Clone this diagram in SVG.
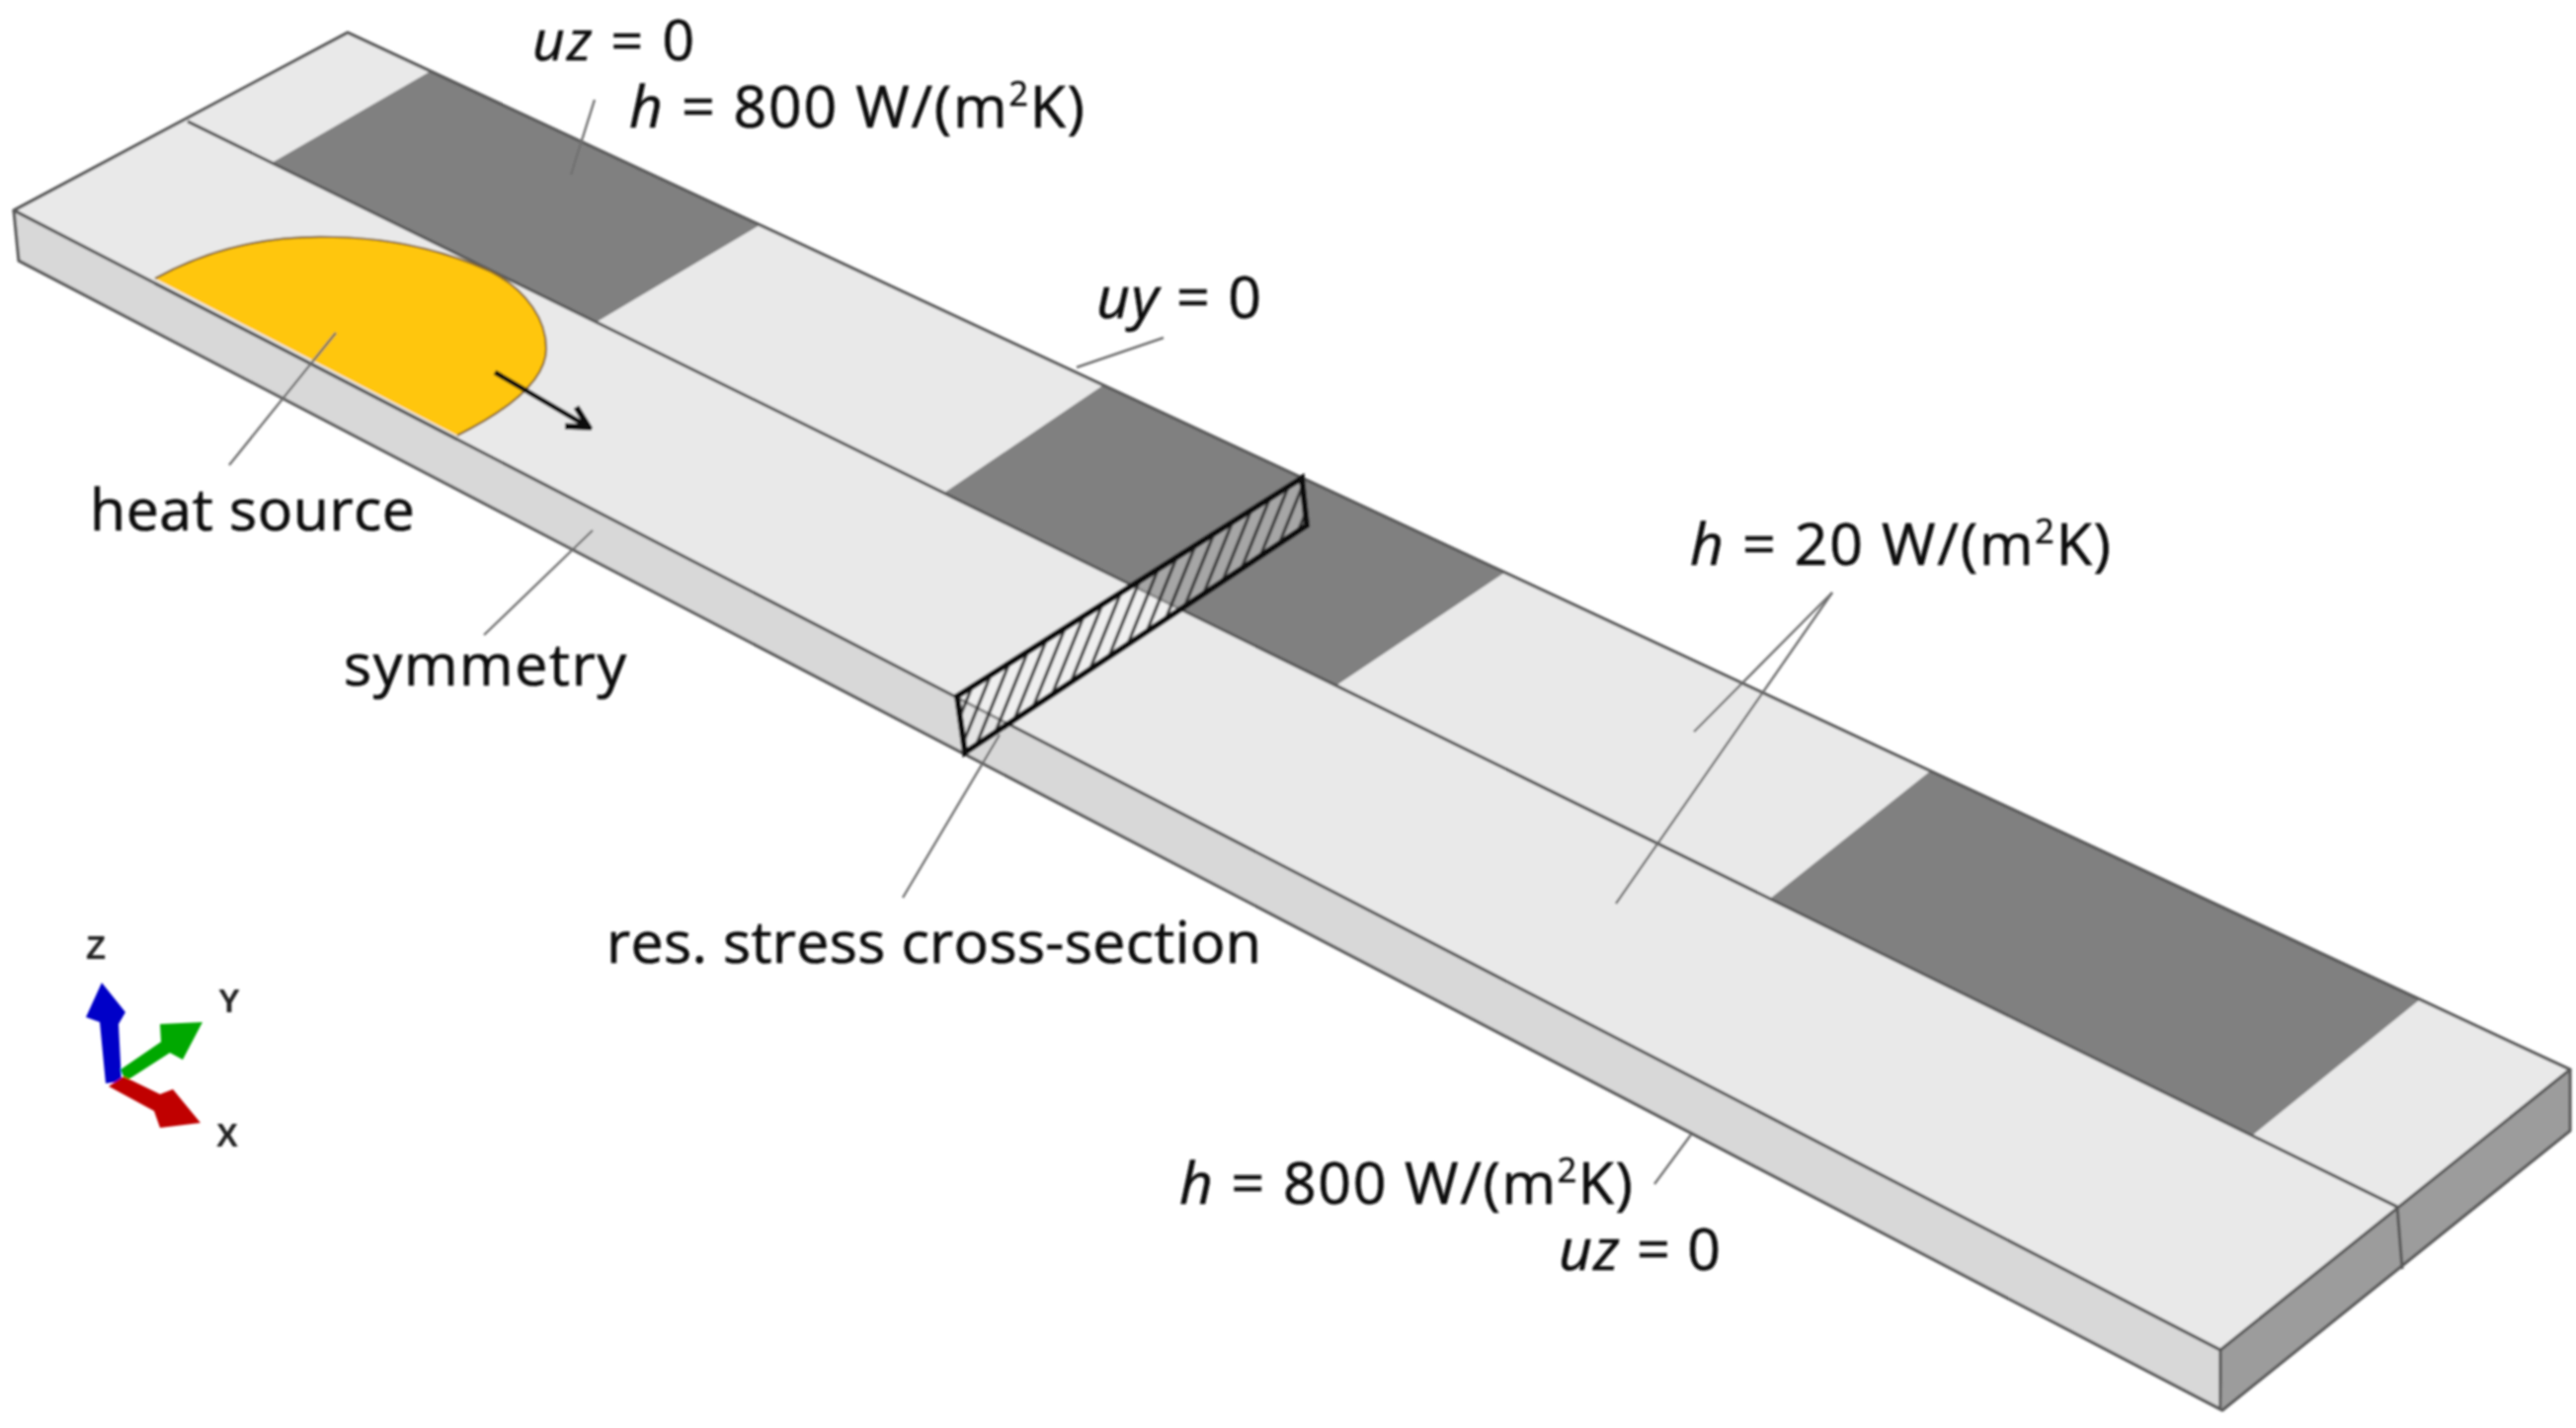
<svg xmlns="http://www.w3.org/2000/svg" width="2608" height="1446" viewBox="0 0 2608 1446">
<style>
text{font-family:"Open Sans","Noto Sans","Liberation Sans",sans-serif;font-size:59px;fill:#111;stroke:#111;stroke-width:.7}
.i{font-style:italic}
.sup{font-size:34px}
.ax{font-family:"Liberation Sans",Arial,sans-serif;font-size:33px;font-weight:bold;fill:#222;stroke:none}
.leader{stroke:#6f6f6f;stroke-width:2.4;fill:none}
.edge{stroke:#5a5a5a;stroke-width:3.2;fill:none;stroke-linejoin:round}
.dark{fill:#808080}
</style>
<defs>
<filter id="soft" x="0" y="0" width="100%" height="100%" filterUnits="userSpaceOnUse" primitiveUnits="userSpaceOnUse"><feGaussianBlur stdDeviation="0.9"/></filter>
<pattern id="hatch" width="13" height="13" patternUnits="userSpaceOnUse" patternTransform="rotate(22)">
<line x1="3" y1="0" x2="3" y2="13" stroke="#333" stroke-width="3"/>
</pattern>
<marker id="ah" viewBox="0 0 24 24" refX="20" refY="12" markerWidth="30" markerHeight="30" markerUnits="userSpaceOnUse" orient="auto">
<path d="M4 3 L21 12 L4 21" fill="none" stroke="#111" stroke-width="5"/>
</marker>
</defs>
<rect width="2608" height="1446" fill="#fff"/>
<g filter="url(#soft)">
<g id="plate">
<polygon points="14,213 19,264 2250,1428 2248,1367" fill="#d8d8d8"/>
<polygon points="2248,1367 2250,1428 2602,1145 2602,1083" fill="#9c9c9c"/>
<polygon points="14,213 352,33 2602,1083 2248,1367" fill="#e9e9e9"/>
</g>
<g id="patch-1"><polygon class="dark" points="275,165 436,72 769,228 604,326"/></g>
<g id="patch-2"><polygon class="dark" points="956,499 1117,390 1523,580 1353,694"/></g>
<g id="patch-3"><polygon class="dark" points="1792,910 1954,781 2450,1012 2280,1150"/></g>
<g id="outline">
<polygon class="edge" points="352,33 2602,1083 2248,1367 14,213"/>
<path class="edge" d="M14,213 19,264 2250,1428 2602,1145 2602,1083M2248,1367V1428M2427,1222 2432,1285"/>
<line class="edge" x1="190" y1="123" x2="2427" y2="1222"/>
</g>
<g id="heat-source">
<path d="M157,282 C215,250 275,238 337,240 C400,241 455,256 497,275 C535,295 553,325 553,353 C553,385 515,415 463,441 Z" fill="#ffc60e"/>
<path d="M157,282 C215,250 275,238 337,240 C400,241 455,256 497,275 C535,295 553,325 553,353 C553,385 515,415 463,441" fill="none" stroke="#8a6a20" stroke-width="2.2"/>
<line class="edge" x1="157" y1="287" x2="463" y2="445"/>
</g>
<g id="cross-section">
<polygon points="969,705 1318,484 1323,532 977,762" fill="#fff" fill-opacity=".3"/>
<polygon points="969,705 1318,484 1323,532 977,762" fill="url(#hatch)"/>
<polygon points="969,705 1318,484 1323,532 977,762" fill="none" stroke="#0d0d0d" stroke-width="6"/>
</g>
<g id="connectors">
<line x1="501" y1="377" x2="595" y2="432" stroke="#111" stroke-width="5" marker-end="url(#ah)"/>
<line class="leader" x1="602" y1="101" x2="578" y2="177"/>
<line class="leader" x1="1178" y1="342" x2="1090" y2="372"/>
<line class="leader" x1="340" y1="337" x2="232" y2="471"/>
<line class="leader" x1="600" y1="537" x2="490" y2="643"/>
<line class="leader" x1="1012" y1="744" x2="914" y2="909"/>
<line class="leader" x1="1855" y1="600" x2="1715" y2="741"/>
<line class="leader" x1="1855" y1="600" x2="1636" y2="915"/>
<line class="leader" x1="1712" y1="1149" x2="1675" y2="1199"/>
</g>
<g id="label-uz-top"><text x="539" y="61" style="font-size:57px" textLength="164"><tspan class="i">uz</tspan> = 0</text></g>
<g id="label-h800-top"><text x="637" y="129" textLength="461"><tspan class="i">h</tspan> = 800 W/(m<tspan class="sup" dy="-22">2</tspan><tspan dy="22">K)</tspan></text></g>
<g id="label-uy"><text x="1110" y="322" textLength="167"><tspan class="i">uy</tspan> = 0</text></g>
<g id="label-heat"><text x="91" y="537" textLength="329">heat source</text></g>
<g id="label-symmetry"><text x="348" y="694" textLength="286">symmetry</text></g>
<g id="label-stress"><text x="614" y="975" textLength="663">res. stress cross-section</text></g>
<g id="label-h20"><text x="1711" y="572" textLength="426"><tspan class="i">h</tspan> = 20 W/(m<tspan class="sup" dy="-22">2</tspan><tspan dy="22">K)</tspan></text></g>
<g id="label-h800-bottom"><text x="1194" y="1219" textLength="459"><tspan class="i">h</tspan> = 800 W/(m<tspan class="sup" dy="-22">2</tspan><tspan dy="22">K)</tspan></text></g>
<g id="label-uz-bottom"><text x="1578" y="1286" textLength="164"><tspan class="i">uz</tspan> = 0</text></g>
<g id="axes">
<polygon points="107,1097 101,1035 87,1030 103,995 127,1025 120,1037 123,1095" fill="#0000c8"/>
<polygon points="122,1083 163,1055 162,1037 205,1035 185,1073 172,1066 127,1095" fill="#00a800"/>
<polygon points="110,1100 125,1090 162,1108 175,1103 203,1137 162,1142 156,1125" fill="#c00000"/>
<text class="ax" x="87" y="971">Z</text>
<text class="ax" x="221" y="1025">Y</text>
<text class="ax" x="219" y="1161">X</text>
</g>
</g>
</svg>
